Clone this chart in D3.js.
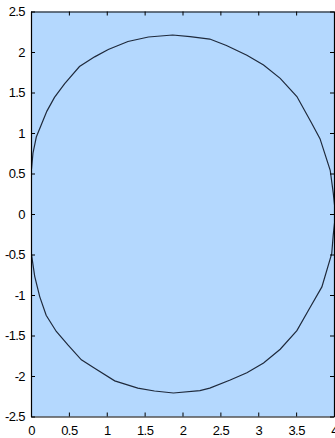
<!DOCTYPE html>
<html><head><meta charset="utf-8">
<script src="https://cdn.jsdelivr.net/npm/d3@7"></script>
<style>html,body{margin:0;padding:0;background:#fff;}svg{display:block;}</style>
</head><body>
<script>
const xTicks = [0, 0.5, 1, 1.5, 2, 2.5, 3, 3.5, 4];
const xTickLabels = ["0", "0.5", "1", "1.5", "2", "2.5", "3", "3.5", "4"];
const yTicks = [-2.5, -2, -1.5, -1, -0.5, 0, 0.5, 1, 1.5, 2, 2.5];
const yTickLabels = ["-2.5", "-2", "-1.5", "-1", "-0.5", "0", "0.5", "1", "1.5", "2", "2.5"];
const curveX = [-0.02, 0.0, 0.005, 0.026, 0.07, 0.14, 0.21, 0.31, 0.445, 0.64, 0.84, 1.02, 1.28, 1.55, 1.87, 2.10, 2.36, 2.58, 2.85, 3.07, 3.29, 3.51, 3.70, 3.815, 3.95, 3.99, 4.02,
  3.99, 3.97, 3.84, 3.68, 3.51, 3.29, 3.07, 2.85, 2.63, 2.36, 2.23, 1.88, 1.63, 1.41, 1.105, 0.84, 0.665, 0.49, 0.334, 0.20, 0.115, 0.049, 0.005, -0.02];
const curveY = [0, 0.34, 0.54, 0.75, 0.95, 1.11, 1.27, 1.44, 1.61, 1.82, 1.94, 2.03, 2.13, 2.185, 2.21, 2.19, 2.16, 2.08, 1.96, 1.84, 1.675, 1.45, 1.13, 0.93, 0.54, 0.26, 0,
  -0.26, -0.49, -0.9, -1.16, -1.44, -1.67, -1.84, -1.96, -2.05, -2.15, -2.18, -2.21, -2.185, -2.15, -2.06, -1.905, -1.80, -1.62, -1.45, -1.25, -1.02, -0.77, -0.49, 0];

const W = 335, H = 438;
const L = 31, R = 334, T = 11.5, B = 416.5;
const svg = d3.select("body").append("svg").attr("width", W).attr("height", H);
const x = d3.scaleLinear().domain([0, 4]).range([L, R]);
const y = d3.scaleLinear().domain([-2.5, 2.5]).range([B, T]);

svg.append("rect").attr("x", L).attr("y", T).attr("width", R - L).attr("height", B - T).attr("fill", "#b4d8fe");

svg.append("clipPath").attr("id", "clip").append("rect")
  .attr("x", L).attr("y", T).attr("width", R - L).attr("height", B - T);

const pts = curveX.map((v, i) => [v, curveY[i]]);
svg.append("path").attr("clip-path", "url(#clip)")
  .attr("d", d3.line().x(d => x(d[0])).y(d => y(d[1]))(pts))
  .attr("fill", "none").attr("stroke", "#1f2a3c").attr("stroke-width", 1.2);

const font = "'Liberation Sans', Arial, sans-serif";
const tl = 4;
const gb = svg.append("g").attr("transform", `translate(0,${B})`)
  .call(d3.axisBottom(x).tickValues(xTicks).tickFormat((d, i) => xTickLabels[i]).tickSizeInner(-tl).tickSizeOuter(0).tickPadding(9));
const gt = svg.append("g").attr("transform", `translate(0,${T})`)
  .call(d3.axisTop(x).tickValues(xTicks).tickFormat("").tickSizeInner(-tl).tickSizeOuter(0));
const gl = svg.append("g").attr("transform", `translate(${L},0)`)
  .call(d3.axisLeft(y).tickValues(yTicks).tickFormat((d, i) => yTickLabels[i]).tickSizeInner(-tl).tickSizeOuter(0).tickPadding(6));
const gr = svg.append("g").attr("transform", `translate(${R},0)`)
  .call(d3.axisRight(y).tickValues(yTicks).tickFormat("").tickSizeInner(-tl).tickSizeOuter(0));

[gb, gt, gl, gr].forEach(g => {
  g.selectAll(".domain").attr("stroke", "#000").attr("stroke-width", 1.2);
  g.selectAll(".tick line").attr("stroke", "#000").attr("stroke-width", 1);
  g.selectAll("text").attr("fill", "#000").style("font-family", font).style("font-size", "13px").style("letter-spacing", "-0.6px");
});
</script>
</body></html>
